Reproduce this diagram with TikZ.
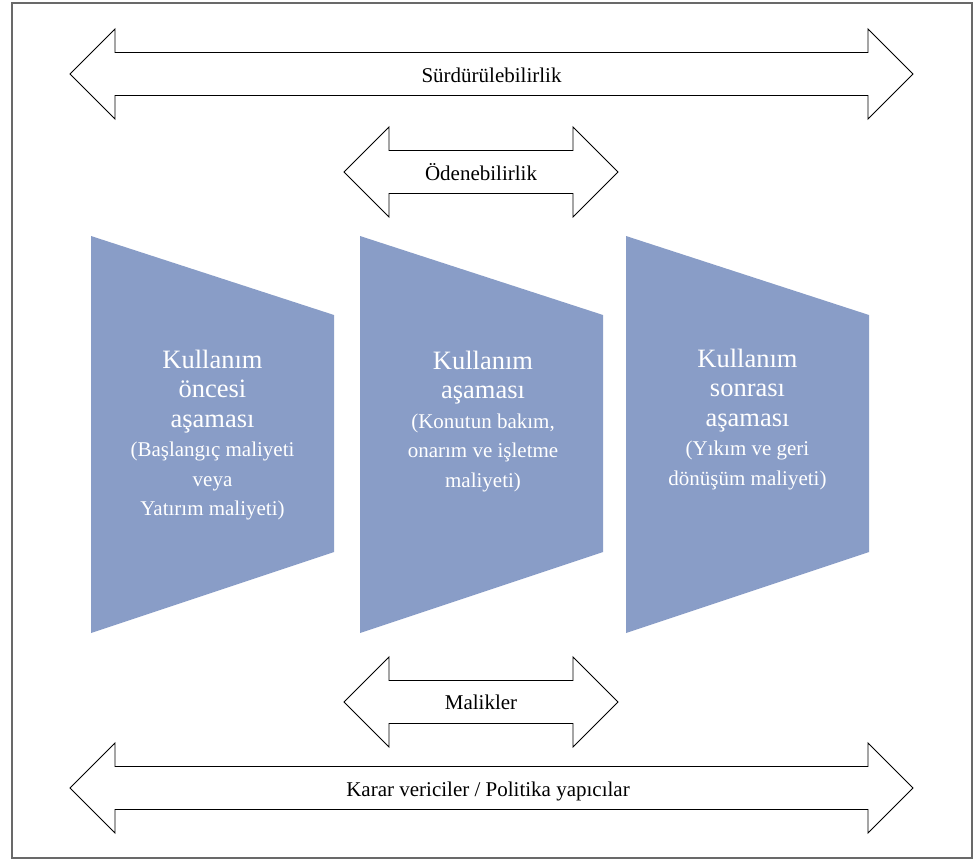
\documentclass[tikz,border=0pt]{standalone}
\usepackage{fontspec}
\setmainfont{Liberation Serif}
\definecolor{phaseblue}{RGB}{137,157,199}
\definecolor{framegray}{RGB}{105,105,105}
% double headed block arrow: left x, right x, centre y
\newcommand{\twoheads}[3]{%
\draw[arrowline] (#1,#3) -- (#1+45,#3-45) -- (#1+45,#3-21.5) -- (#2-45,#3-21.5) -- (#2-45,#3-45) -- (#2,#3)
 -- (#2-45,#3+45) -- (#2-45,#3+21.5) -- (#1+45,#3+21.5) -- (#1+45,#3+45) -- cycle;}
% smaller line inside a phase
\newcommand{\phasenote}[1]{{\fontsize{21}{29.5}\selectfont #1}}

\begin{document}
\begin{tikzpicture}[x=1pt,y=-1pt]
\tikzstyle{arrowline}=[draw=black, line width=0.9pt, fill=white, line join=miter]
\tikzstyle{label}=[inner sep=0pt, anchor=base, font=\fontsize{21}{24}\selectfont]
\tikzstyle{phase}=[inner sep=0pt, anchor=north, align=center, text=white, font=\fontsize{26.5}{29.5}\selectfont]
\useasboundingbox (0,0) rectangle (978,863);
\draw[framegray, line width=1.3pt] (12,3) rectangle (972,858);

% arrows over the phases
\twoheads{70}{913}{74}
\twoheads{344}{618}{172}
\node[label] (sustain) at (491.5,82) {Sürdürülebilirlik};
\node[label] (afford) at (481,180) {Ödenebilirlik};

% the three phases
\foreach \lx in {91,360,626}
  \fill[phaseblue] (\lx,236) -- (\lx+243,315) -- (\lx+243,552) -- (\lx,633) -- cycle;
\node[phase] (pre) at (212.5,349.5) {Kullanım\\öncesi\\aşaması\\\phasenote{(Başlangıç maliyeti}\\\phasenote{veya}\\\phasenote{Yatırım maliyeti)}};
\node[phase] (use) at (483,350.5) {Kullanım\\aşaması\\\phasenote{(Konutun bakım,}\\\phasenote{onarım ve işletme}\\\phasenote{maliyeti)}};
\node[phase] (post) at (747.5,348.5) {Kullanım\\sonrası\\aşaması\\\phasenote{(Yıkım ve geri}\\\phasenote{dönüşüm maliyeti)}};

% arrows under the phases
\twoheads{344}{618}{702}
\twoheads{70}{913}{788}
\node[label] (owners) at (481,709) {Malikler};
\node[label] (policy) at (488,796) {Karar vericiler / Politika yapıcılar};
\end{tikzpicture}
\end{document}
